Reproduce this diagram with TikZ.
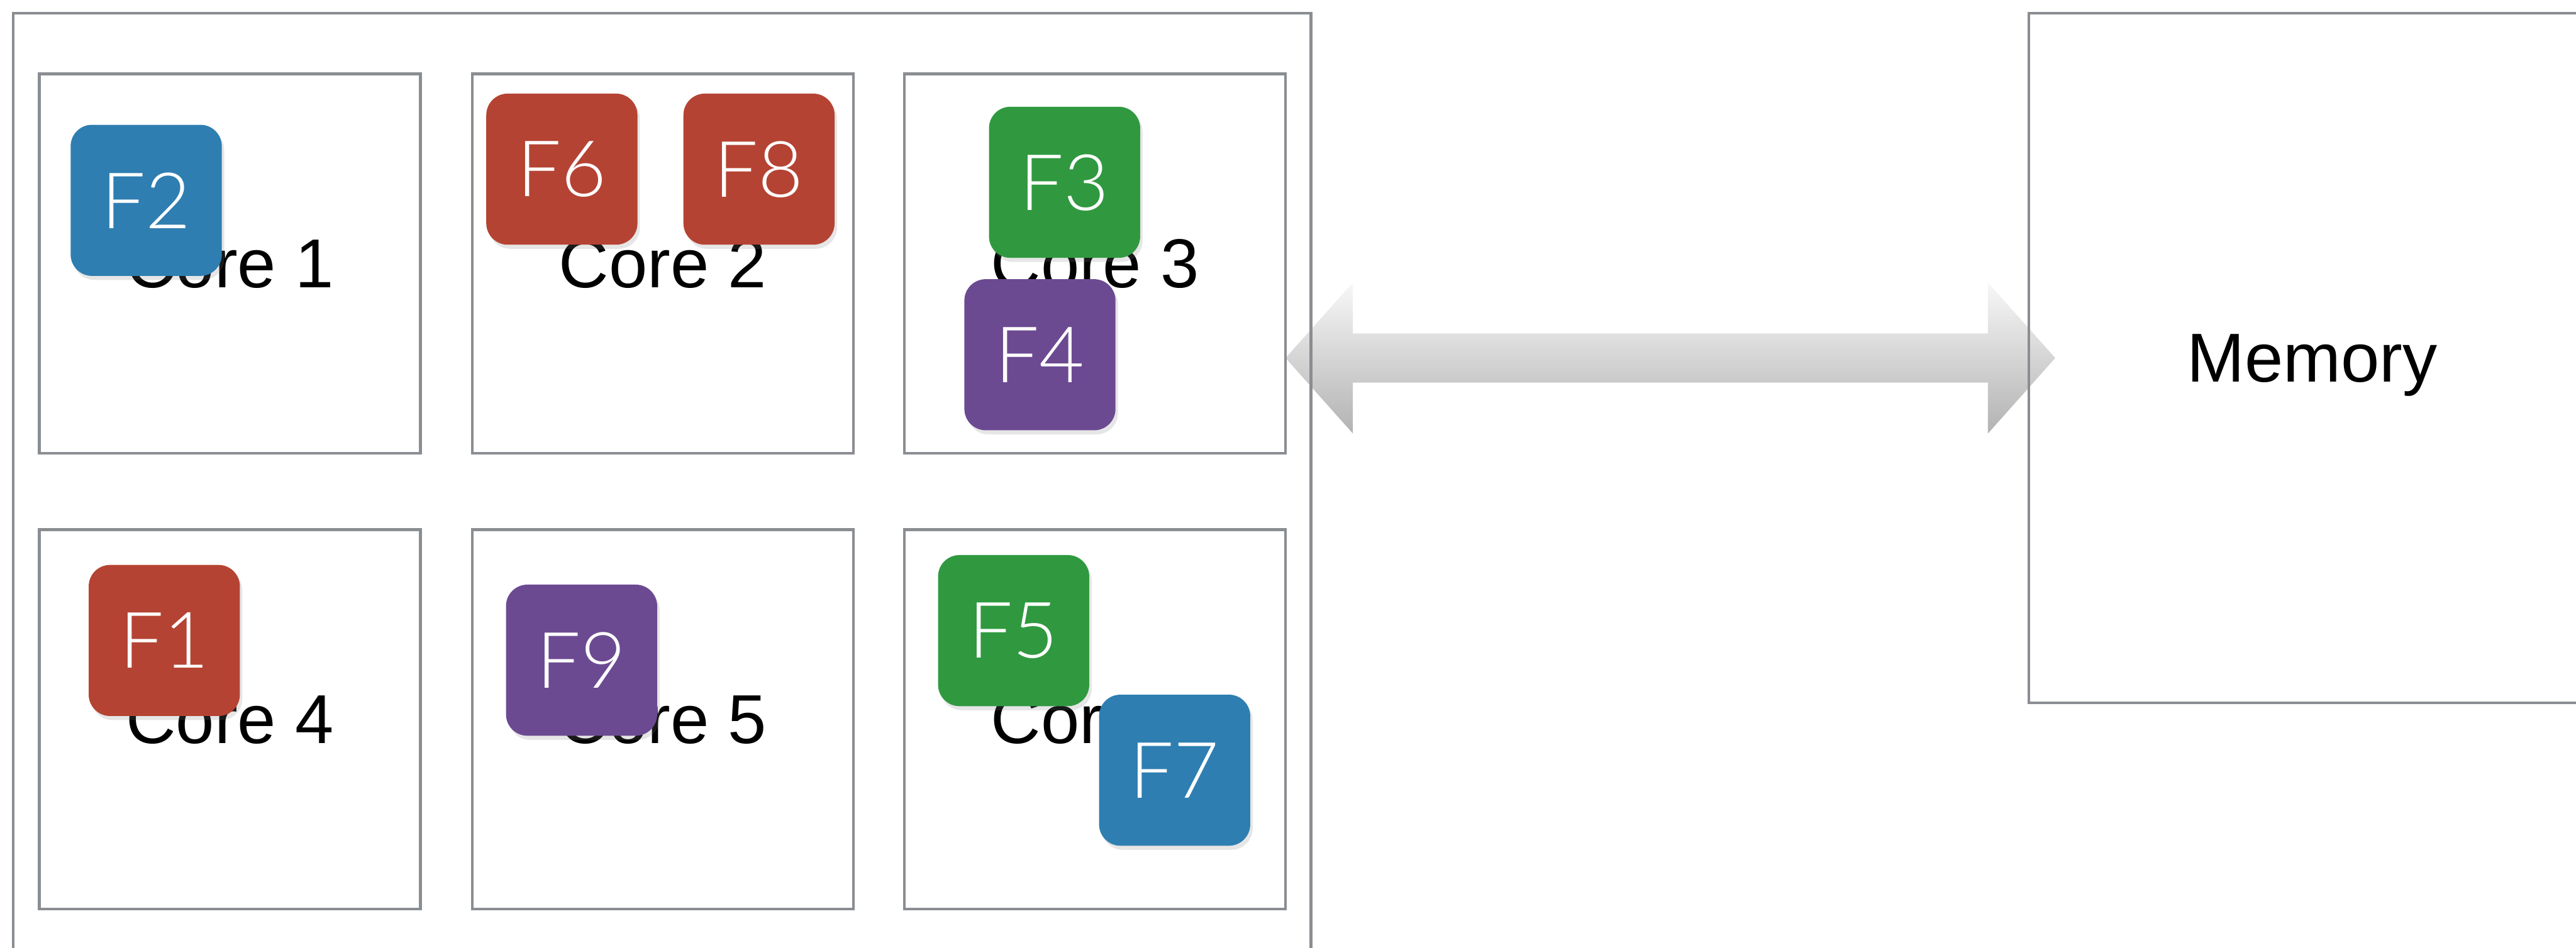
\documentclass[tikz,border=0pt]{standalone}
\usepackage{fontspec}
\setmainfont{Liberation Sans}
\newfontfamily\tasklabel{Lato}[UprightFont=* Light]
\usetikzlibrary{calc,shadows,backgrounds}

\begin{document}
\begin{tikzpicture}[y=-1cm,
  every node/.style={outer sep=0pt, text depth=0pt, font=\fontsize{12}{14}\selectfont},
  frame/.style={draw={rgb,255:red,138;green,141;blue,145}, line width=0.5pt},
  core/.style={frame, minimum width=2.32cm, minimum height=2.31cm},
  task/.style={rounded corners=0.13cm, minimum size=0.92cm, text=white,
    font=\tasklabel\fontsize{13.5}{15}\selectfont,
    drop shadow={opacity=0.2, shadow xshift=0.015cm, shadow yshift=-0.025cm}},
  memlink/.style={top color=black!3, bottom color=black!30}]
\useasboundingbox (0,0) rectangle (15.68,5.77);

\node[frame, anchor=north west, minimum width=7.90cm, minimum height=6.2cm] (chip) at (0.08,0.08) {};
\node[frame, anchor=north west, minimum width=3.45cm, minimum height=4.20cm] (mem) at (12.35,0.08) {Memory};

\node[core] (core1) at (1.40,1.605) {Core 1};
\node[core] (core2) at (4.035,1.605) {Core 2};
\node[core] (core3) at (6.665,1.605) {Core 3};
\node[core] (core4) at (1.40,4.38) {Core 4};
\node[core] (core5) at (4.035,4.38) {Core 5};
\node[core] (core6) at (6.665,4.38) {Core 6};

\node[task, fill={rgb,255:red,46;green,126;blue,177}] (f2) at (0.89,1.22) {F2};
\node[task, fill={rgb,255:red,181;green,67;blue,51}] (f6) at (3.42,1.03) {F6};
\node[task, fill={rgb,255:red,181;green,67;blue,51}] (f8) at (4.62,1.03) {F8};
\node[task, fill={rgb,255:red,48;green,153;blue,64}] (f3) at (6.48,1.11) {F3};
\node[task, fill={rgb,255:red,108;green,74;blue,146}] (f4) at (6.33,2.16) {F4};
\node[task, fill={rgb,255:red,181;green,67;blue,51}] (f1) at (1.00,3.90) {F1};
\node[task, fill={rgb,255:red,108;green,74;blue,146}] (f9) at (3.54,4.02) {F9};
\node[task, fill={rgb,255:red,48;green,153;blue,64}] (f5) at (6.17,3.84) {F5};
\node[task, fill={rgb,255:red,46;green,126;blue,177}] (f7) at (7.15,4.69) {F7};

\coordinate (arrL) at (core3.east |- mem.west);
\coordinate (arrR) at ($(mem.west)+(0.16,0)$);
\begin{scope}[on background layer]
\path[memlink] (arrL) -- ($(arrL)+(0.41,-0.46)$) -- ($(arrL)+(0.41,-0.15)$)
  -- ($(arrR)+(-0.41,-0.15)$) -- ($(arrR)+(-0.41,-0.46)$) -- (arrR)
  -- ($(arrR)+(-0.41,0.46)$) -- ($(arrR)+(-0.41,0.15)$)
  -- ($(arrL)+(0.41,0.15)$) -- ($(arrL)+(0.41,0.46)$) -- cycle;
\end{scope}
\end{tikzpicture}
\end{document}
